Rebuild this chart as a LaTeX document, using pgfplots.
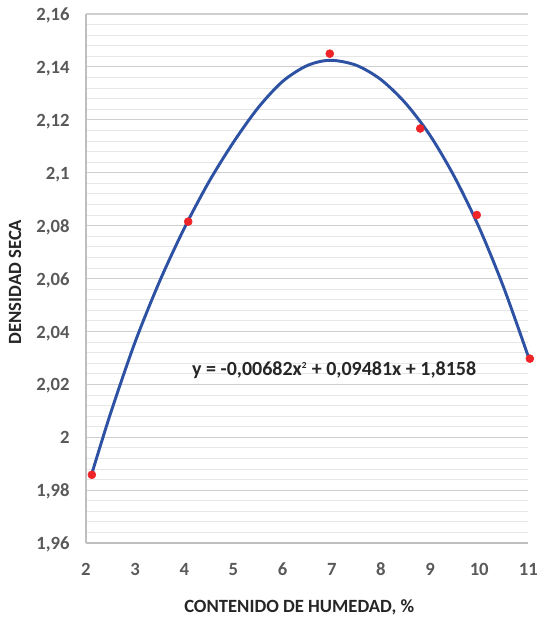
\documentclass[border=0pt]{standalone}
\usepackage{pgfplots}
\pgfplotsset{compat=1.18}
\usepackage{fontspec}
\setmainfont{Carlito}
\definecolor{tickgray}{HTML}{595959}
\definecolor{gridmajor}{HTML}{CFCFCF}
\definecolor{gridminor}{HTML}{E6E6E6}
\definecolor{axisgray}{HTML}{BFBFBF}
\definecolor{curveblue}{HTML}{2D51A3}
\definecolor{markred}{HTML}{EE2428}
\definecolor{eqcol}{HTML}{262626}
\begin{document}
\begin{tikzpicture}
\begin{axis}[name=ax,
  width=332pt, height=397pt, scale only axis,
  xmin=2, xmax=11, ymin=1.96, ymax=2.16,
  xtick={2,3,4,5,6,7,8,9,10,11},
  ytick={1.96,1.98,2,2.02,2.04,2.06,2.08,2.1,2.12,2.14,2.16},
  minor y tick num=4,
  ymajorgrids, yminorgrids,
  major grid style={draw=gridmajor, line width=0.8pt},
  minor grid style={draw=gridminor, line width=0.6pt},
  axis x line*=bottom, axis y line*=left,
  axis line style={draw=axisgray, line width=0.9pt},
  major tick length=0pt, minor tick length=0pt,
  tick style={draw=none},
  /pgf/number format/assume math mode=true,
  /pgf/number format/use comma,
  /pgf/number format/fixed,
  ticklabel style={font=\fontsize{14}{16}\selectfont\bfseries, text=tickgray},
  xticklabel style={anchor=base, yshift=-24.5pt},
  yticklabel style={anchor=base east, xshift=-8.8pt, yshift=-5pt},
  xlabel={CONTENIDO DE HUMEDAD, \%},
  ylabel={DENSIDAD SECA},
  label style={font=\fontsize{14}{16}\selectfont\bfseries, text=eqcol},
  xlabel style={at={(axis description cs:0.482,-0.1304)}, anchor=base},
  ylabel style={at={(axis description cs:-0.16,0.4934)}, anchor=center},
  clip=false,
]
\addplot[smooth, color=curveblue, line width=2.2pt] coordinates {
  (2.116,1.9860) (2.5,2.0090) (3.0,2.0360) (3.5,2.0590) (4.0,2.0790)
  (4.5,2.0965) (5.0,2.1115) (5.5,2.1245) (6.0,2.1345) (6.5,2.1405)
  (6.97,2.1425) (7.5,2.1406) (8.0,2.1352) (8.5,2.1263) (9.0,2.1141)
  (9.5,2.0983) (10.0,2.0792) (10.5,2.0565) (11.03,2.0288)
};
\addplot[only marks, mark=*, mark size=3pt, color=markred] coordinates {
  (2.12,1.9858) (4.08,2.0815) (6.96,2.1450) (8.80,2.1167) (9.95,2.0840) (11.03,2.0297)
};
\node[font=\fontsize{15}{17}\selectfont\bfseries, text=eqcol, anchor=center]
  at (axis cs:7.05,2.0254) {y = -0,00682x\textsuperscript{\scriptsize 2} + 0,09481x + 1,8158};
\end{axis}
\pgfresetboundingbox
\path ([shift={(-64.5pt,-57pt)}]ax.south west) rectangle ([shift={(10.5pt,10.5pt)}]ax.north east);
\end{tikzpicture}
\end{document}
